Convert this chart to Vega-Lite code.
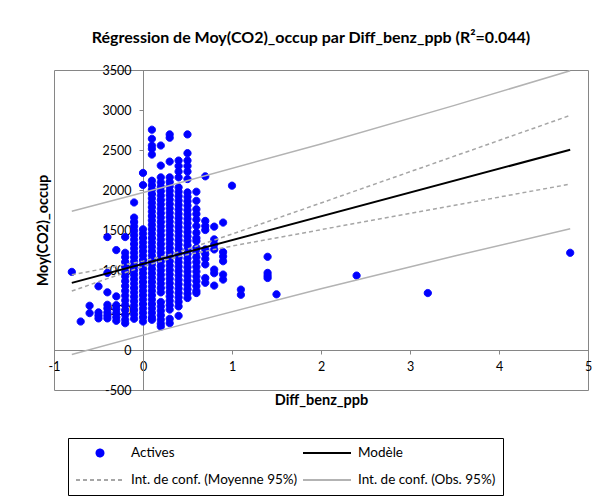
{
"$schema":"https://vega.github.io/schema/vega-lite/v6.json",
"autosize":{"type":"none"},
"width":534,"height":320,
"padding":{"left":54,"top":70,"right":22,"bottom":111},
"background":"white",
"title":{"text":"Régression de Moy(CO2)_occup par Diff_benz_ppb (R²=0.044)","font":"Lato","fontSize":16,"fontWeight":"bold","color":"#000","anchor":"middle","offset":18,"dx":-10},
"config":{
 "view":{"stroke":"#868686","strokeWidth":1},
 "font":"Lato",
 "axis":{"domainColor":"#868686","tickColor":"#868686","labelFont":"Lato","labelFontSize":12.5,"labelColor":"#000","titleFont":"Lato","titleFontSize":14.5,"titleFontWeight":"bold","titleColor":"#000","grid":false,"labelFlush":false,"zindex":1,"tickSize":4,"labelExpr":"''+datum.value"},
 "legend":{"orient":"none","legendX":14,"legendY":368,"columns":2,"symbolSize":2304,"clipHeight":16,"rowPadding":11,"columnPadding":4,"labelOffset":6,"labelLimit":400,"labelFont":"Lato","labelFontSize":13.5,"labelColor":"#000","strokeColor":"#000","padding":7,"symbolStrokeWidth":1.8,"symbolOpacity":1}
},
"datasets":{
"lines":[
{"s":"m","g":"m","x":-0.8,"y":839},{"s":"m","g":"m","x":4.8,"y":2503},
{"s":"c","g":"cu","x":-0.8,"y":941},{"s":"c","g":"cu","x":-0.4,"y":1024},{"s":"c","g":"cu","x":0,"y":1111},{"s":"c","g":"cu","x":0.25,"y":1176},{"s":"c","g":"cu","x":0.5,"y":1260},{"s":"c","g":"cu","x":1,"y":1449},{"s":"c","g":"cu","x":2,"y":1838},{"s":"c","g":"cu","x":3,"y":2228},{"s":"c","g":"cu","x":4,"y":2619},{"s":"c","g":"cu","x":4.8,"y":2933},
{"s":"c","g":"cl","x":-0.8,"y":737},{"s":"c","g":"cl","x":-0.4,"y":892},{"s":"c","g":"cl","x":0,"y":1043},{"s":"c","g":"cl","x":0.25,"y":1126},{"s":"c","g":"cl","x":0.5,"y":1192},{"s":"c","g":"cl","x":1,"y":1299},{"s":"c","g":"cl","x":2,"y":1504},{"s":"c","g":"cl","x":3,"y":1708},{"s":"c","g":"cl","x":4,"y":1911},{"s":"c","g":"cl","x":4.8,"y":2073},
{"s":"o","g":"ou","x":-0.8,"y":1735},{"s":"o","g":"ou","x":0.25,"y":2041},{"s":"o","g":"ou","x":2,"y":2576},{"s":"o","g":"ou","x":3.5,"y":3058},{"s":"o","g":"ou","x":4.8,"y":3491},
{"s":"o","g":"ol","x":-0.8,"y":-57},{"s":"o","g":"ol","x":0.25,"y":261},{"s":"o","g":"ol","x":2,"y":766},{"s":"o","g":"ol","x":3.5,"y":1175},{"s":"o","g":"ol","x":4.8,"y":1515}
],
"pts":[
{"s":"Actives","x":-0.8,"y":976},
{"s":"Actives","x":-0.7,"y":356},
{"s":"Actives","x":-0.6,"y":553},{"s":"Actives","x":-0.6,"y":461},
{"s":"Actives","x":-0.5,"y":796},{"s":"Actives","x":-0.5,"y":470},{"s":"Actives","x":-0.5,"y":430},{"s":"Actives","x":-0.5,"y":395},
{"s":"Actives","x":-0.4,"y":1412},{"s":"Actives","x":-0.4,"y":964},{"s":"Actives","x":-0.4,"y":721},{"s":"Actives","x":-0.4,"y":565},{"s":"Actives","x":-0.4,"y":520},{"s":"Actives","x":-0.4,"y":470},{"s":"Actives","x":-0.4,"y":430},{"s":"Actives","x":-0.4,"y":395},
{"s":"Actives","x":-0.3,"y":1249},{"s":"Actives","x":-0.3,"y":670},{"s":"Actives","x":-0.3,"y":560},{"s":"Actives","x":-0.3,"y":510},{"s":"Actives","x":-0.3,"y":460},{"s":"Actives","x":-0.3,"y":410},{"s":"Actives","x":-0.3,"y":365},
{"s":"Actives","x":-0.2,"y":1412},{"s":"Actives","x":-0.2,"y":1215},{"s":"Actives","x":-0.2,"y":1160},{"s":"Actives","x":-0.2,"y":1100},{"s":"Actives","x":-0.2,"y":1040},{"s":"Actives","x":-0.2,"y":980},{"s":"Actives","x":-0.2,"y":920},{"s":"Actives","x":-0.2,"y":860},{"s":"Actives","x":-0.2,"y":800},{"s":"Actives","x":-0.2,"y":740},{"s":"Actives","x":-0.2,"y":680},{"s":"Actives","x":-0.2,"y":620},{"s":"Actives","x":-0.2,"y":560},{"s":"Actives","x":-0.2,"y":500},{"s":"Actives","x":-0.2,"y":440},{"s":"Actives","x":-0.2,"y":380},{"s":"Actives","x":-0.2,"y":335},
{"s":"Actives","x":-0.1,"y":1844},{"s":"Actives","x":-0.1,"y":1655},{"s":"Actives","x":-0.1,"y":1600},{"s":"Actives","x":-0.1,"y":1545},{"s":"Actives","x":-0.1,"y":1490},{"s":"Actives","x":-0.1,"y":1435},{"s":"Actives","x":-0.1,"y":1380},{"s":"Actives","x":-0.1,"y":1325},{"s":"Actives","x":-0.1,"y":1270},{"s":"Actives","x":-0.1,"y":1215},{"s":"Actives","x":-0.1,"y":1160},{"s":"Actives","x":-0.1,"y":1105},{"s":"Actives","x":-0.1,"y":1050},{"s":"Actives","x":-0.1,"y":995},{"s":"Actives","x":-0.1,"y":940},{"s":"Actives","x":-0.1,"y":885},{"s":"Actives","x":-0.1,"y":830},{"s":"Actives","x":-0.1,"y":775},{"s":"Actives","x":-0.1,"y":720},{"s":"Actives","x":-0.1,"y":665},{"s":"Actives","x":-0.1,"y":610},{"s":"Actives","x":-0.1,"y":555},{"s":"Actives","x":-0.1,"y":500},{"s":"Actives","x":-0.1,"y":445},{"s":"Actives","x":-0.1,"y":390},
{"s":"Actives","x":0,"y":2213},{"s":"Actives","x":0,"y":2062},{"s":"Actives","x":0,"y":1509},{"s":"Actives","x":0,"y":1455},{"s":"Actives","x":0,"y":1400},{"s":"Actives","x":0,"y":1345},{"s":"Actives","x":0,"y":1290},{"s":"Actives","x":0,"y":1235},{"s":"Actives","x":0,"y":1180},{"s":"Actives","x":0,"y":1125},{"s":"Actives","x":0,"y":1070},{"s":"Actives","x":0,"y":1015},{"s":"Actives","x":0,"y":960},{"s":"Actives","x":0,"y":905},{"s":"Actives","x":0,"y":850},{"s":"Actives","x":0,"y":795},{"s":"Actives","x":0,"y":740},{"s":"Actives","x":0,"y":685},{"s":"Actives","x":0,"y":630},{"s":"Actives","x":0,"y":575},{"s":"Actives","x":0,"y":520},{"s":"Actives","x":0,"y":465},{"s":"Actives","x":0,"y":410},{"s":"Actives","x":0,"y":356},
{"s":"Actives","x":0.1,"y":2753},{"s":"Actives","x":0.1,"y":2640},{"s":"Actives","x":0.1,"y":2556},{"s":"Actives","x":0.1,"y":2515},{"s":"Actives","x":0.1,"y":2443},{"s":"Actives","x":0.1,"y":2116},{"s":"Actives","x":0.1,"y":2060},{"s":"Actives","x":0.1,"y":2005},{"s":"Actives","x":0.1,"y":1950},{"s":"Actives","x":0.1,"y":1895},{"s":"Actives","x":0.1,"y":1840},{"s":"Actives","x":0.1,"y":1785},{"s":"Actives","x":0.1,"y":1730},{"s":"Actives","x":0.1,"y":1675},{"s":"Actives","x":0.1,"y":1620},{"s":"Actives","x":0.1,"y":1565},{"s":"Actives","x":0.1,"y":1510},{"s":"Actives","x":0.1,"y":1455},{"s":"Actives","x":0.1,"y":1400},{"s":"Actives","x":0.1,"y":1345},{"s":"Actives","x":0.1,"y":1290},{"s":"Actives","x":0.1,"y":1235},{"s":"Actives","x":0.1,"y":1180},{"s":"Actives","x":0.1,"y":1125},{"s":"Actives","x":0.1,"y":1070},{"s":"Actives","x":0.1,"y":1015},{"s":"Actives","x":0.1,"y":960},{"s":"Actives","x":0.1,"y":905},{"s":"Actives","x":0.1,"y":850},{"s":"Actives","x":0.1,"y":795},{"s":"Actives","x":0.1,"y":740},{"s":"Actives","x":0.1,"y":685},{"s":"Actives","x":0.1,"y":630},{"s":"Actives","x":0.1,"y":575},{"s":"Actives","x":0.1,"y":520},{"s":"Actives","x":0.1,"y":465},{"s":"Actives","x":0.1,"y":410},{"s":"Actives","x":0.1,"y":377},
{"s":"Actives","x":0.2,"y":2556},{"s":"Actives","x":0.2,"y":2305},{"s":"Actives","x":0.2,"y":2158},{"s":"Actives","x":0.2,"y":2095},{"s":"Actives","x":0.2,"y":2040},{"s":"Actives","x":0.2,"y":1985},{"s":"Actives","x":0.2,"y":1930},{"s":"Actives","x":0.2,"y":1875},{"s":"Actives","x":0.2,"y":1820},{"s":"Actives","x":0.2,"y":1765},{"s":"Actives","x":0.2,"y":1710},{"s":"Actives","x":0.2,"y":1655},{"s":"Actives","x":0.2,"y":1600},{"s":"Actives","x":0.2,"y":1545},{"s":"Actives","x":0.2,"y":1490},{"s":"Actives","x":0.2,"y":1435},{"s":"Actives","x":0.2,"y":1380},{"s":"Actives","x":0.2,"y":1325},{"s":"Actives","x":0.2,"y":1270},{"s":"Actives","x":0.2,"y":1215},{"s":"Actives","x":0.2,"y":1160},{"s":"Actives","x":0.2,"y":1105},{"s":"Actives","x":0.2,"y":1050},{"s":"Actives","x":0.2,"y":995},{"s":"Actives","x":0.2,"y":940},{"s":"Actives","x":0.2,"y":885},{"s":"Actives","x":0.2,"y":830},{"s":"Actives","x":0.2,"y":775},{"s":"Actives","x":0.2,"y":720},{"s":"Actives","x":0.2,"y":600},{"s":"Actives","x":0.2,"y":545},{"s":"Actives","x":0.2,"y":490},{"s":"Actives","x":0.2,"y":435},{"s":"Actives","x":0.2,"y":380},{"s":"Actives","x":0.2,"y":330},{"s":"Actives","x":0.2,"y":293},
{"s":"Actives","x":0.3,"y":2695},{"s":"Actives","x":0.3,"y":2653},{"s":"Actives","x":0.3,"y":2355},{"s":"Actives","x":0.3,"y":2158},{"s":"Actives","x":0.3,"y":2100},{"s":"Actives","x":0.3,"y":2045},{"s":"Actives","x":0.3,"y":1990},{"s":"Actives","x":0.3,"y":1935},{"s":"Actives","x":0.3,"y":1880},{"s":"Actives","x":0.3,"y":1825},{"s":"Actives","x":0.3,"y":1770},{"s":"Actives","x":0.3,"y":1715},{"s":"Actives","x":0.3,"y":1660},{"s":"Actives","x":0.3,"y":1605},{"s":"Actives","x":0.3,"y":1550},{"s":"Actives","x":0.3,"y":1495},{"s":"Actives","x":0.3,"y":1440},{"s":"Actives","x":0.3,"y":1385},{"s":"Actives","x":0.3,"y":1330},{"s":"Actives","x":0.3,"y":1275},{"s":"Actives","x":0.3,"y":1220},{"s":"Actives","x":0.3,"y":1165},{"s":"Actives","x":0.3,"y":1110},{"s":"Actives","x":0.3,"y":1055},{"s":"Actives","x":0.3,"y":1000},{"s":"Actives","x":0.3,"y":945},{"s":"Actives","x":0.3,"y":890},{"s":"Actives","x":0.3,"y":835},{"s":"Actives","x":0.3,"y":780},{"s":"Actives","x":0.3,"y":725},{"s":"Actives","x":0.3,"y":670},{"s":"Actives","x":0.3,"y":615},{"s":"Actives","x":0.3,"y":560},{"s":"Actives","x":0.3,"y":505},{"s":"Actives","x":0.3,"y":390},{"s":"Actives","x":0.3,"y":335},
{"s":"Actives","x":0.4,"y":2368},{"s":"Actives","x":0.4,"y":2300},{"s":"Actives","x":0.4,"y":2230},{"s":"Actives","x":0.4,"y":2158},{"s":"Actives","x":0.4,"y":2033},{"s":"Actives","x":0.4,"y":1978},{"s":"Actives","x":0.4,"y":1923},{"s":"Actives","x":0.4,"y":1868},{"s":"Actives","x":0.4,"y":1813},{"s":"Actives","x":0.4,"y":1758},{"s":"Actives","x":0.4,"y":1703},{"s":"Actives","x":0.4,"y":1648},{"s":"Actives","x":0.4,"y":1593},{"s":"Actives","x":0.4,"y":1538},{"s":"Actives","x":0.4,"y":1483},{"s":"Actives","x":0.4,"y":1428},{"s":"Actives","x":0.4,"y":1373},{"s":"Actives","x":0.4,"y":1318},{"s":"Actives","x":0.4,"y":1263},{"s":"Actives","x":0.4,"y":1208},{"s":"Actives","x":0.4,"y":1153},{"s":"Actives","x":0.4,"y":1098},{"s":"Actives","x":0.4,"y":1043},{"s":"Actives","x":0.4,"y":988},{"s":"Actives","x":0.4,"y":933},{"s":"Actives","x":0.4,"y":878},{"s":"Actives","x":0.4,"y":823},{"s":"Actives","x":0.4,"y":768},{"s":"Actives","x":0.4,"y":713},{"s":"Actives","x":0.4,"y":658},{"s":"Actives","x":0.4,"y":603},{"s":"Actives","x":0.4,"y":545},{"s":"Actives","x":0.4,"y":427},
{"s":"Actives","x":0.5,"y":2695},{"s":"Actives","x":0.5,"y":2460},{"s":"Actives","x":0.5,"y":2368},{"s":"Actives","x":0.5,"y":2300},{"s":"Actives","x":0.5,"y":2230},{"s":"Actives","x":0.5,"y":2137},{"s":"Actives","x":0.5,"y":1970},{"s":"Actives","x":0.5,"y":1915},{"s":"Actives","x":0.5,"y":1860},{"s":"Actives","x":0.5,"y":1805},{"s":"Actives","x":0.5,"y":1750},{"s":"Actives","x":0.5,"y":1695},{"s":"Actives","x":0.5,"y":1640},{"s":"Actives","x":0.5,"y":1585},{"s":"Actives","x":0.5,"y":1530},{"s":"Actives","x":0.5,"y":1475},{"s":"Actives","x":0.5,"y":1420},{"s":"Actives","x":0.5,"y":1365},{"s":"Actives","x":0.5,"y":1310},{"s":"Actives","x":0.5,"y":1255},{"s":"Actives","x":0.5,"y":1200},{"s":"Actives","x":0.5,"y":1145},{"s":"Actives","x":0.5,"y":1090},{"s":"Actives","x":0.5,"y":1035},{"s":"Actives","x":0.5,"y":980},{"s":"Actives","x":0.5,"y":925},{"s":"Actives","x":0.5,"y":870},{"s":"Actives","x":0.5,"y":815},{"s":"Actives","x":0.5,"y":760},{"s":"Actives","x":0.5,"y":705},{"s":"Actives","x":0.5,"y":650},
{"s":"Actives","x":0.6,"y":1978},{"s":"Actives","x":0.6,"y":1865},{"s":"Actives","x":0.6,"y":1760},{"s":"Actives","x":0.6,"y":1700},{"s":"Actives","x":0.6,"y":1630},{"s":"Actives","x":0.6,"y":1550},{"s":"Actives","x":0.6,"y":1467},{"s":"Actives","x":0.6,"y":1400},{"s":"Actives","x":0.6,"y":1362},{"s":"Actives","x":0.6,"y":1278},{"s":"Actives","x":0.6,"y":1220},{"s":"Actives","x":0.6,"y":1160},{"s":"Actives","x":0.6,"y":1100},{"s":"Actives","x":0.6,"y":1040},{"s":"Actives","x":0.6,"y":980},{"s":"Actives","x":0.6,"y":920},{"s":"Actives","x":0.6,"y":860},{"s":"Actives","x":0.6,"y":800},{"s":"Actives","x":0.6,"y":740},{"s":"Actives","x":0.6,"y":712},
{"s":"Actives","x":0.7,"y":2171},{"s":"Actives","x":0.7,"y":1613},{"s":"Actives","x":0.7,"y":1550},{"s":"Actives","x":0.7,"y":1500},{"s":"Actives","x":0.7,"y":1257},{"s":"Actives","x":0.7,"y":1200},{"s":"Actives","x":0.7,"y":1140},{"s":"Actives","x":0.7,"y":1070},{"s":"Actives","x":0.7,"y":900},{"s":"Actives","x":0.7,"y":840},
{"s":"Actives","x":0.8,"y":1542},{"s":"Actives","x":0.8,"y":1383},{"s":"Actives","x":0.8,"y":1320},{"s":"Actives","x":0.8,"y":1257},{"s":"Actives","x":0.8,"y":1005},{"s":"Actives","x":0.8,"y":960},{"s":"Actives","x":0.8,"y":805},
{"s":"Actives","x":0.9,"y":1593},{"s":"Actives","x":0.9,"y":1224},{"s":"Actives","x":0.9,"y":1170},{"s":"Actives","x":0.9,"y":1110},{"s":"Actives","x":0.9,"y":943},{"s":"Actives","x":0.9,"y":880},
{"s":"Actives","x":1.0,"y":2054},
{"s":"Actives","x":1.1,"y":755},{"s":"Actives","x":1.1,"y":690},
{"s":"Actives","x":1.4,"y":1165},{"s":"Actives","x":1.4,"y":964},{"s":"Actives","x":1.4,"y":930},{"s":"Actives","x":1.4,"y":900},
{"s":"Actives","x":1.5,"y":696},
{"s":"Actives","x":2.4,"y":930},
{"s":"Actives","x":3.2,"y":712},
{"s":"Actives","x":4.8,"y":1215}
]},
"encoding":{
 "x":{"field":"x","type":"quantitative","title":"Diff_benz_ppb","scale":{"domain":[-1,5],"nice":false,"zero":false},"axis":{"offset":-40,"values":[-1,0,1,2,3,4,5],"labelPadding":6,"titlePadding":21}},
 "y":{"field":"y","type":"quantitative","title":"Moy(CO2)_occup","scale":{"domain":[-500,3500],"nice":false,"zero":false},"axis":{"offset":-89,"values":[-500,0,500,1000,1500,2000,2500,3000,3500],"labelPadding":8,"titlePadding":52}}
},
"layer":[
 {"data":{"name":"pts"},
  "mark":{"type":"point","filled":true,"size":2304,"strokeWidth":1,"opacity":1},
  "encoding":{
   "fill":{"field":"s","type":"nominal","title":null,"scale":{"domain":["Actives","Int. de conf. (Moyenne 95%)","Modèle","Int. de conf. (Obs. 95%)"],"range":["#0000ff","#a6a6a6","#000000","#b3b3b3"]}},
   "stroke":{"field":"s","type":"nominal","title":null,"scale":{"domain":["Actives","Int. de conf. (Moyenne 95%)","Modèle","Int. de conf. (Obs. 95%)"],"range":["#0000ff","#a6a6a6","#000000","#b3b3b3"]}},
   "shape":{"field":"s","type":"nominal","title":null,"scale":{"domain":["Actives","Int. de conf. (Moyenne 95%)","Modèle","Int. de conf. (Obs. 95%)"],"range":["M-0.15,0A0.15,0.15,0,1,1,0.15,0A0.15,0.15,0,1,1,-0.15,0Z","stroke","stroke","stroke"]}},
   "strokeDash":{"field":"s","type":"nominal","title":null,"scale":{"domain":["Actives","Int. de conf. (Moyenne 95%)","Modèle","Int. de conf. (Obs. 95%)"],"range":[[1,0],[4,3],[1,0],[1,0]]}}
  }},
 {"data":{"name":"lines"},"transform":[{"filter":"datum.s=='o'"}],
  "mark":{"type":"line","color":"#b3b3b3","strokeWidth":1.5},
  "encoding":{"detail":{"field":"g"}}},
 {"data":{"name":"lines"},"transform":[{"filter":"datum.s=='c'"}],
  "mark":{"type":"line","color":"#a6a6a6","strokeWidth":1.5,"strokeDash":[4,3]},
  "encoding":{"detail":{"field":"g"}}},
 {"data":{"name":"lines"},"transform":[{"filter":"datum.s=='m'"}],
  "mark":{"type":"line","color":"#000000","strokeWidth":2},
  "encoding":{"detail":{"field":"g"}}}
]
}
